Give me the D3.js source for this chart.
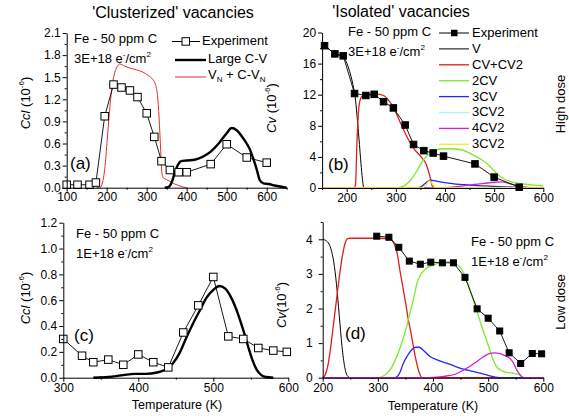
<!DOCTYPE html>
<html>
<head>
<meta charset="utf-8">
<script src="https://cdn.jsdelivr.net/npm/d3@7/dist/d3.min.js"></script>
<style>
body { margin: 0; background: #fff; }
svg { display: block; font-family: "Liberation Sans", Arial, sans-serif; }
</style>
</head>
<body>
<svg id="chart" width="569" height="419"></svg>
<script>
// ---- (a) clusterized, high dose
var tA_exp = [100,127,157,173,195,217,237,258,277,300,319,337,358,380,400,460,500,550,600];
var vA_exp = [0.04,0.04,0.04,0.07,0.97,1.40,1.36,1.32,1.23,1.01,0.69,0.36,0.24,0.21,0.21,0.32,0.59,0.41,0.34];
var tA_large = [345,355,363,370,378,386,400,420,440,460,480,500,512,525,540,550,558,566,575,583,592,605,620,640,650];
var vA_large = [0,0.01,0.08,0.2,0.31,0.36,0.37,0.38,0.42,0.49,0.6,0.74,0.81,0.78,0.68,0.6,0.52,0.4,0.25,0.1,0.06,0.05,0.03,0.01,0];
var tA_vn = [175,183,190,196,202,208,214,220,226,232,245,260,275,290,305,315,322,327,331,335,338,342,350,360,370,380,390,400];
var vA_vn = [0,0,0.08,0.3,0.7,1.1,1.4,1.56,1.64,1.68,1.65,1.62,1.6,1.57,1.52,1.47,1.4,1.25,0.95,0.5,0.2,0.13,0.11,0.08,0.05,0.03,0.01,0];

// ---- (b) isolated, high dose
var tB_exp = [155,176,193,216,239,256,275,295,319,336,357,376,397,461,500,551];
var vB_exp = [18.3,17.25,17.0,12.15,11.9,12.05,11.1,10.3,8.1,5.6,4.8,4.5,4.1,3.1,1.4,0.1];
var tB_v = [155,165,176,185,193,198,203,209,214,218,222,226,229,232,235,600];
var vB_v = [18.3,17.8,17.3,17.1,16.9,16.4,15.6,14.3,12.9,11.3,8.6,5.6,3.2,1.2,0,0];
var tB_cv = [150,215,218,221,225,230,240,260,275,285,295,305,315,325,335,350,362,369,374,378,600];
var vB_cv = [0,0,0.5,6,10.5,11.7,12,12.1,11.9,11.3,10.4,9,7.6,6.3,5.2,4.1,3.0,1.6,0.3,0,0];
var tB_2cv = [150,300,310,320,330,340,350,360,370,380,395,410,430,445,460,475,490,500,510,520,535,550,565,580,600];
var vB_2cv = [0,0,0.1,0.4,1.0,1.9,3.0,3.9,4.5,4.85,5.05,5.05,4.95,4.65,4.15,3.6,2.9,2.2,1.6,1.15,0.8,0.6,0.48,0.38,0.28];
var tB_3cv = [150,340,350,358,365,370,378,390,410,440,480,520,550,580,600];
var vB_3cv = [0,0,0.1,0.5,0.85,1.0,0.95,0.8,0.6,0.42,0.28,0.15,0.08,0.02,0];
var tB_3cv2a = [150,600];
var vB_3cv2a = [0,0];
var tB_4cv2 = [150,380,400,420,440,460,480,500,515,530,545,560,575,590,600];
var vB_4cv2 = [0,0,0.05,0.15,0.3,0.45,0.6,0.74,0.78,0.6,0.35,0.15,0.04,0,0];
var tB_3cv2b = [150,350,356,362,366,369,372,376,380,385,600];
var vB_3cv2b = [0,0,0.1,0.45,0.8,0.9,0.75,0.35,0.08,0,0];

// ---- (c) clusterized, low dose
var tC_exp = [300,325,340,360,380,400,420,440,460,480,500,520,540,560,580,598];
var vC_exp = [0.30,0.17,0.12,0.14,0.10,0.18,0.12,0.08,0.35,0.56,0.78,0.32,0.30,0.23,0.21,0.20];
var tC_large = [340,360,380,395,410,425,435,446,455,464,473,482,491,500,508,516,523,530,536,542,547,552,558,564,570,580];
var vC_large = [0,0.005,0.02,0.03,0.03,0.04,0.06,0.11,0.19,0.31,0.42,0.52,0.62,0.68,0.71,0.69,0.63,0.54,0.44,0.33,0.23,0.14,0.06,0.02,0.005,0];

// ---- (d) isolated, low dose
var tD_exp = [298,320,338,357,377,396,417,437,458,480,500,521,538,559,580,597];
var vD_exp = [4.09,4.06,3.77,3.37,3.28,3.34,3.32,3.32,2.90,1.99,1.72,1.35,0.72,0.41,0.70,0.69];
var tD_v = [200,205,210,215,220,225,230,235,240,245,250,600];
var vD_v = [4.0,3.97,3.9,3.72,3.35,2.7,1.8,0.9,0.3,0.05,0,0];
var tD_cv = [200,205,210,215,220,225,230,235,240,245,250,300,322,330,335,340,345,350,355,360,365,370,375,380,600];
var vD_cv = [0,0.1,0.4,0.95,1.6,2.25,2.9,3.45,3.85,4.02,4.03,4.03,4.01,3.85,3.6,3.1,2.65,2.2,1.7,1.3,0.85,0.45,0.15,0,0];
var tD_2cv = [200,300,310,322,330,340,350,358,365,371,378,385,395,407,420,432,440,449,455,461,467,473,479,485,491,497,503,509,515,522,530,545,557,563,600];
var vD_2cv = [0,0,0.05,0.22,0.45,0.85,1.35,1.86,2.3,2.73,2.98,3.12,3.22,3.3,3.34,3.35,3.3,3.2,3.05,2.82,2.55,2.25,1.96,1.65,1.35,1.09,0.8,0.52,0.33,0.22,0.17,0.13,0.08,0,0];
var tD_3cv = [200,331,340,346,353,361,368,375,382,394,410,425,440,455,470,485,500,509,520,600];
var vD_3cv = [0,0,0.15,0.41,0.62,0.8,0.88,0.88,0.8,0.62,0.5,0.42,0.33,0.25,0.19,0.13,0.07,0.03,0,0];
var tD_4cv2 = [200,382,400,420,440,455,467,479,491,503,512,520,530,540,546,552,558,565,600];
var vD_4cv2 = [0,0,0.01,0.04,0.1,0.22,0.33,0.46,0.6,0.7,0.72,0.7,0.64,0.55,0.42,0.22,0.08,0,0];
var tD_zero = [200,600];
var vD_zero = [0,0];

var legendB = ["Experiment","V","CV+CV2","2CV","3CV","3CV2","4CV2","3CV2"];
var colB = {v:"#000", cv:"#dc1f1f", c2:"#7ee82a", c3:"#2727f0", c32a:"#a6f6f6", c4:"#d41ed8", c32b:"#f0ee1a"};

var svg = d3.select("#chart");
svg.append("rect").attr("width",569).attr("height",419).attr("fill","#fff");

function makePanel(o) {
    var x = d3.scaleLinear().domain(o.xd).range(o.xr);
    var y = d3.scaleLinear().domain(o.yd).range(o.yr);
    var g = svg.append("g");
    var smooth = d3.line().x(function(d){return x(d[0]);}).y(function(d){return y(d[1]);}).curve(d3.curveMonotoneX);
    var straight = d3.line().x(function(d){return x(d[0]);}).y(function(d){return y(d[1]);});
    o.curves.forEach(function(c){
        g.append("path").datum(d3.zip(c.t, c.v))
            .attr("d", smooth).attr("fill","none")
            .attr("stroke", c.color).attr("stroke-width", c.w);
    });
    if (o.exp) {
        var pts = d3.zip(o.exp.t, o.exp.v);
        g.append("path").datum(pts).attr("d", straight)
            .attr("fill","none").attr("stroke","#000").attr("stroke-width",0.9);
        var s = o.exp.size;
        g.selectAll(".sq").data(pts).enter().append("rect")
            .attr("x", function(d){return x(d[0]) - s/2;})
            .attr("y", function(d){return y(d[1]) - s/2;})
            .attr("width", s).attr("height", s)
            .attr("fill", o.exp.filled ? "#000" : "#fff")
            .attr("stroke","#000").attr("stroke-width",1);
    }
    // axes on top of the curves
    var bottom = o.yr[0], left = o.xr[0];
    g.append("g").attr("transform","translate(0,"+bottom+")")
        .call(d3.axisBottom(x).tickValues(o.xt).tickSize(4).tickSizeOuter(0).tickPadding(o.xpad).tickFormat(d3.format("d")));
    var xm = g.append("g").attr("transform","translate(0,"+bottom+")")
        .call(d3.axisBottom(x).tickValues(o.xm).tickSize(2).tickFormat(""));
    xm.select(".domain").remove();
    g.append("g").attr("transform","translate("+left+",0)")
        .call(d3.axisLeft(y).tickValues(o.yt).tickSize(4).tickSizeOuter(0).tickPadding(o.ypad).tickFormat(d3.format(o.yf)));
    var ym = g.append("g").attr("transform","translate("+left+",0)")
        .call(d3.axisLeft(y).tickValues(o.ym).tickSize(2).tickFormat(""));
    ym.select(".domain").remove();
    g.selectAll(".tick text").attr("font-size",12).attr("font-family","Liberation Sans, Arial, sans-serif").attr("fill","#000");
    g.selectAll(".domain, .tick line").attr("stroke","#000");
    return {x:x, y:y};
}

function seq(a, b, step) { return d3.range(a, b + step/2, step); }

makePanel({xd:[100,650], xr:[66.7,286.7], yd:[0,2.1], yr:[187.7,33], xpad:1, ypad:2,
    xt:seq(100,600,100), xm:seq(150,650,100), yt:seq(0,2.1,0.3), ym:seq(0.15,1.95,0.3), yf:".1f",
    curves:[{t:tA_vn, v:vA_vn, color:"#e0302c", w:1},
            {t:tA_large, v:vA_large, color:"#000", w:2.4}],
    exp:{t:tA_exp, v:vA_exp, size:7.5, filled:false}});

makePanel({xd:[150,600], xr:[322.1,543.3], yd:[0,20], yr:[188,32.5], xpad:1, ypad:2,
    xt:seq(200,600,100), xm:seq(150,550,100), yt:seq(0,20,4), ym:seq(2,18,4), yf:"d",
    curves:[{t:tB_v, v:vB_v, color:colB.v, w:1},
            {t:tB_cv, v:vB_cv, color:colB.cv, w:1.3},
            {t:tB_2cv, v:vB_2cv, color:colB.c2, w:1.3},
            {t:tB_3cv, v:vB_3cv, color:colB.c3, w:1.3},
            {t:tB_3cv2a, v:vB_3cv2a, color:colB.c32a, w:1.3},
            {t:tB_4cv2, v:vB_4cv2, color:colB.c4, w:1.3},
            {t:tB_3cv2b, v:vB_3cv2b, color:colB.c32b, w:1.3}],
    exp:{t:tB_exp, v:vB_exp, size:6.5, filled:true}});

makePanel({xd:[300,600], xr:[63.3,288.3], yd:[0,1.2], yr:[377.7,222.7], xpad:2, ypad:2,
    xt:seq(300,600,100), xm:seq(350,550,100), yt:seq(0,1.2,0.2), ym:seq(0.1,1.1,0.2), yf:".1f",
    curves:[{t:tC_large, v:vC_large, color:"#000", w:2.4}],
    exp:{t:tC_exp, v:vC_exp, size:7.5, filled:false}});

makePanel({xd:[200,600], xr:[322.7,543.3], yd:[0,4.5], yr:[377.7,222], xpad:2, ypad:6,
    xt:seq(200,600,100), xm:seq(250,550,100), yt:seq(0,4,1), ym:seq(0.5,4.5,1), yf:"d",
    curves:[{t:tD_zero, v:vD_zero, color:colB.c32b, w:1.3},
            {t:tD_v, v:vD_v, color:colB.v, w:1},
            {t:tD_cv, v:vD_cv, color:colB.cv, w:1.3},
            {t:tD_2cv, v:vD_2cv, color:colB.c2, w:1.3},
            {t:tD_3cv, v:vD_3cv, color:colB.c3, w:1.3},
            {t:tD_4cv2, v:vD_4cv2, color:colB.c4, w:1.3}],
    exp:{t:tD_exp, v:vD_exp, size:6, filled:true}});

// ---- texts
function txt(x, y, s, size, anchor) {
    return svg.append("text").attr("x",x).attr("y",y).attr("font-size",size)
        .attr("text-anchor",anchor || "start").attr("dominant-baseline","middle").text(s);
}
txt(173, 14, "'Clusterized' vacancies", 16, "middle");
txt(401, 13, "'Isolated' vacancies", 16, "middle");

function dose(x, y, line2) {
    txt(x, y, "Fe - 50 ppm C", 13);
    var t = svg.append("text").attr("x",x).attr("y",y+20).attr("font-size",13).attr("dominant-baseline","middle");
    t.append("tspan").text(line2 + " e");
    t.append("tspan").attr("dy",-5).attr("font-size",8).text("-");
    t.append("tspan").attr("dy",5).text("/cm");
    t.append("tspan").attr("dy",-5).attr("font-size",8).text("2");
}
dose(74, 40, "3E+18");
dose(348, 33, "3E+18");
dose(76, 235, "1E+18");
dose(471, 243, "1E+18");

txt(70, 165, "(a)", 17);
txt(328, 166, "(b)", 17);
txt(74, 337, "(c)", 17);
txt(345, 335, "(d)", 17);

function ylab(x, y, sym, sep) {
    var t = svg.append("text").attr("transform","translate("+x+","+y+") rotate(-90)")
        .attr("font-size",13).attr("text-anchor","middle").attr("dominant-baseline","middle");
    t.append("tspan").attr("font-style","italic").text(sym);
    t.append("tspan").text(sep + "(10");
    t.append("tspan").attr("dy",-5).attr("font-size",8).text("-6");
    t.append("tspan").attr("dy",5).text(")");
}
ylab(27, 103, "Ccl", " ");
ylab(273, 108, "Cv", " ");
ylab(27, 298, "Ccl", " ");
ylab(283, 305, "Cv", "");

svg.append("text").attr("transform","translate(562,104) rotate(-90)").attr("font-size",13)
    .attr("text-anchor","middle").attr("dominant-baseline","middle").text("High dose");
svg.append("text").attr("transform","translate(562,302) rotate(-90)").attr("font-size",13)
    .attr("text-anchor","middle").attr("dominant-baseline","middle").text("Low dose");

txt(177, 406, "Temperature (K)", 12.5, "middle");
txt(433, 407, "Temperature (K)", 12.5, "middle");

// ---- legend (a)
var legA = svg.append("g");
legA.append("line").attr("x1",172).attr("x2",200).attr("y1",41.5).attr("y2",41.5).attr("stroke","#000");
legA.append("rect").attr("x",182).attr("y",37.7).attr("width",7.5).attr("height",7.5).attr("fill","#fff").attr("stroke","#000");
txt(202, 42, "Experiment", 13);
legA.append("line").attr("x1",175).attr("x2",206).attr("y1",60).attr("y2",60).attr("stroke","#000").attr("stroke-width",2.4);
txt(208, 60, "Large C-V", 13);
legA.append("line").attr("x1",175).attr("x2",206).attr("y1",77).attr("y2",77).attr("stroke","#e0302c");
var vn = svg.append("text").attr("x",208).attr("y",76).attr("font-size",13).attr("dominant-baseline","middle");
vn.append("tspan").text("V");
vn.append("tspan").attr("dy",4).attr("font-size",8).text("N");
vn.append("tspan").attr("dy",-4).text(" + C-V");
vn.append("tspan").attr("dy",4).attr("font-size",8).text("N");

// ---- legend (b)
var legColors = ["#000", colB.v, colB.cv, colB.c2, colB.c3, colB.c32a, colB.c4, colB.c32b];
legendB.forEach(function(name, i){
    var yy = 33 + i*15.9;
    svg.append("line").attr("x1",439).attr("x2",469).attr("y1",yy).attr("y2",yy)
        .attr("stroke", legColors[i]).attr("stroke-width", i < 2 ? 1 : 1.3);
    if (i == 0) svg.append("rect").attr("x",451).attr("y",yy-3.25).attr("width",6.5).attr("height",6.5).attr("fill","#000");
    txt(472, yy+0.5, name, 13);
});
</script>
</body>
</html>
